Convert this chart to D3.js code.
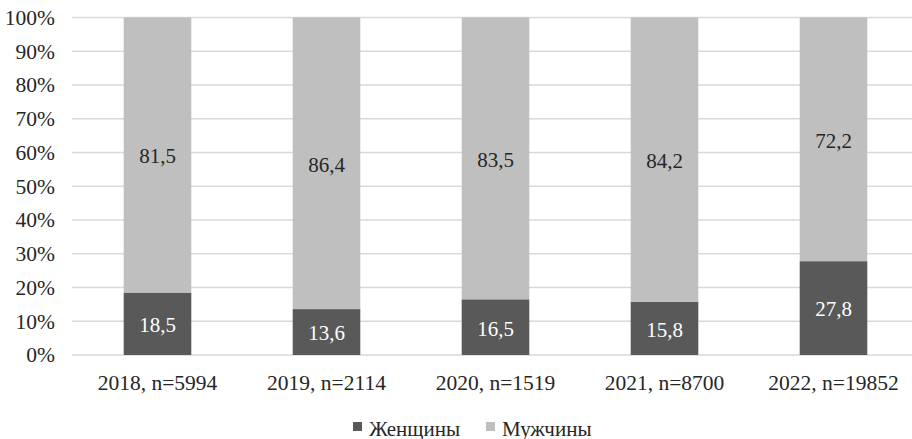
<!DOCTYPE html>
<html><head><meta charset="utf-8">
<script src="https://cdn.jsdelivr.net/npm/d3@7"></script>
<style>body{margin:0;background:#fff}svg{display:block}
svg text{font-family:"Liberation Serif","Times New Roman",Times,"DejaVu Serif",serif !important;}</style>
</head><body>
<svg id="c" width="912" height="439"></svg>
<script>
const categories = ["2018, n=5994","2019, n=2114","2020, n=1519","2021, n=8700","2022, n=19852"];
const women = [18.5, 13.6, 16.5, 15.8, 27.8];
const men = [81.5, 86.4, 83.5, 84.2, 72.2];
const seriesNames = ["Женщины","Мужчины"];
const yTicks = [0,10,20,30,40,50,60,70,80,90,100];

const colors = ["#595959","#bfbfbf"];
const svg = d3.select("#c");
const x = d3.scaleBand().domain(categories).range([73, 918]).paddingInner(0.6).paddingOuter(0.3);
const y = d3.scaleLinear().domain([0,100]).range([355, 17.5]);

// gridlines
svg.append("g").selectAll("line").data(yTicks).join("line")
  .attr("x1",72).attr("x2",912).attr("y1",d=>y(d)).attr("y2",d=>y(d))
  .attr("stroke","#d9d9d9").attr("stroke-width",1.3);

// y axis labels
const yAxis = svg.append("g").attr("transform","translate(57,0)")
  .call(d3.axisLeft(y).tickValues(yTicks).tickFormat(d=>d+"%").tickSize(0).tickPadding(2));
yAxis.select(".domain").remove();
yAxis.selectAll("text").attr("font-size",21.5).attr("fill","#262626");

// x axis labels
const xAxis = svg.append("g").attr("transform","translate(0,355)")
  .call(d3.axisBottom(x).tickSize(0).tickPadding(20));
xAxis.select(".domain").remove();
xAxis.selectAll("text").attr("font-size",21.5).attr("fill","#262626");

const data = categories.map((c,i)=>({cat:c, w:women[i], m:men[i]}));
const stack = d3.stack().keys(["w","m"])(data);

svg.append("g").selectAll("g").data(stack).join("g")
  .attr("fill",(d,i)=>colors[i])
  .selectAll("rect").data(d=>d).join("rect")
  .attr("x",d=>x(d.data.cat)).attr("width",x.bandwidth())
  .attr("y",d=>y(d[1])).attr("height",d=>y(d[0])-y(d[1]));

const fmt = v => String(v).replace(".",",");
svg.append("g").selectAll("g").data(stack).join("g")
  .attr("fill",(d,i)=> i===0 ? "#ffffff" : "#262626")
  .selectAll("text").data(d=>d).join("text")
  .attr("x",d=>x(d.data.cat)+x.bandwidth()/2)
  .attr("y",d=>y((d[0]+d[1])/2)+1)
  .attr("dy","0.35em")
  .attr("text-anchor","middle")
  .attr("font-size",21)
  .text(d=>fmt(+(d[1]-d[0]).toFixed(1)));

// legend
const legendX = [353, 486];
const lg = svg.append("g");
seriesNames.forEach((n,i)=>{
  lg.append("rect").attr("x",legendX[i]).attr("y",422).attr("width",9).attr("height",9).attr("fill",colors[i]);
  lg.append("text").attr("x",legendX[i]+16).attr("y",435.5).attr("font-size",21)
    .attr("fill","#262626").text(n);
});
</script>
</body></html>
